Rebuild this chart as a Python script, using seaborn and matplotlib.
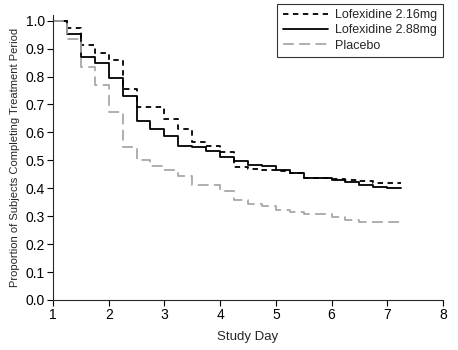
import pandas as pd
import matplotlib.pyplot as plt
import seaborn as sns

# ===== DATA =====
days = [1.0, 1.25, 1.5, 1.75, 2.0, 2.25, 2.5, 2.75, 3.0, 3.25, 3.5, 3.75, 4.0,
        4.25, 4.5, 4.75, 5.0, 5.25, 5.5, 5.75, 6.0, 6.25, 6.5, 6.75, 7.0, 7.25]
lofex_216 = [1.0, 0.974, 0.912, 0.886, 0.860, 0.754, 0.690, 0.690, 0.648, 0.611, 0.567, 0.551, 0.531,
             0.477, 0.468, 0.466, 0.462, 0.455, 0.438, 0.438, 0.434, 0.428, 0.427, 0.420, 0.420, 0.420]
lofex_288 = [1.0, 0.954, 0.870, 0.849, 0.796, 0.730, 0.641, 0.613, 0.586, 0.552, 0.547, 0.532, 0.511,
             0.496, 0.484, 0.478, 0.466, 0.454, 0.438, 0.438, 0.431, 0.422, 0.410, 0.405, 0.400, 0.400]
placebo = [1.0, 0.936, 0.833, 0.770, 0.672, 0.549, 0.500, 0.480, 0.465, 0.445, 0.410, 0.410, 0.391,
           0.358, 0.344, 0.337, 0.322, 0.316, 0.308, 0.308, 0.298, 0.286, 0.278, 0.278, 0.278, 0.278]
groups = ["Lofexidine 2.16mg", "Lofexidine 2.88mg", "Placebo"]

df = pd.concat([
    pd.DataFrame({"day": days, "prop": vals, "group": g})
    for g, vals in zip(groups, [lofex_216, lofex_288, placebo])
])

sns.set_style("ticks")
plt.rcParams['font.family'] = ['Liberation Sans', 'DejaVu Sans']

fig = plt.figure(figsize=(4.58, 3.5), dpi=100)
ax = fig.add_axes([0.1157, 0.1429, 0.8515, 0.814])

palette = {groups[0]: "black", groups[1]: "black", groups[2]: "#a8a8a8"}
dashes = {groups[0]: (3, 2.5), groups[1]: "", groups[2]: (6, 3)}
sns.lineplot(data=df, x="day", y="prop", hue="group", style="group",
             palette=palette, dashes=dashes, drawstyle="steps-post",
             linewidth=1.3, ax=ax, estimator=None)

ax.set_xlim(1, 8)
ax.set_ylim(0, 1.02)
ax.set_xticks([1, 2, 3, 4, 5, 6, 7, 8])
ax.set_yticks([i / 10 for i in range(11)])
ax.set_yticklabels([f"{i / 10:.1f}" for i in range(11)])
ax.tick_params(labelsize=10, length=4, width=0.8, colors="black", pad=2)
ax.set_xlabel("Study Day", fontsize=9.5, labelpad=6)
ax.set_ylabel("Proportion of Subjects Completing Treatment Period", fontsize=8, labelpad=4)
for s in ["top", "right"]:
    ax.spines[s].set_visible(False)
ax.spines["left"].set_linewidth(0.8)
ax.spines["bottom"].set_linewidth(0.8)

leg = ax.legend(loc="upper right", bbox_to_anchor=(1.0, 1.04), fontsize=9,
                handlelength=3.6, frameon=True, fancybox=False, borderpad=0.45,
                labelspacing=0.25, handletextpad=0.6, borderaxespad=0.0)
leg.get_frame().set_edgecolor("black")
leg.get_frame().set_linewidth(0.8)
leg.set_title(None)

fig.savefig("out.png", dpi=100)
